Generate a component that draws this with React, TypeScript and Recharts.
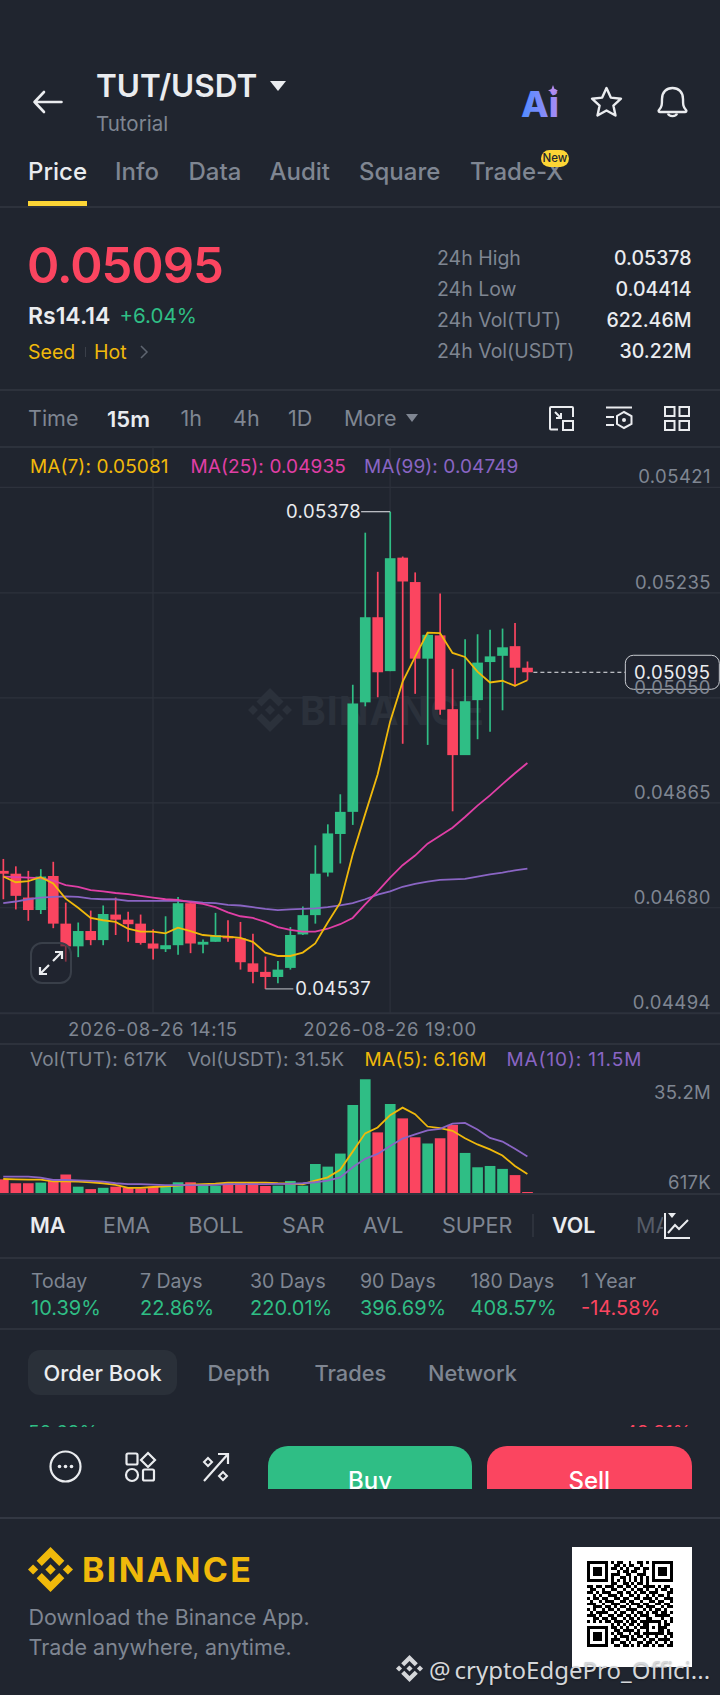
import { type CSSProperties, type ReactNode } from 'react';
import { Bar, CartesianGrid, Cell, ComposedChart, Line, ReferenceDot, XAxis, YAxis } from 'recharts';

// ===== colours =====
const BG = '#20252F';
const GREEN = '#2FBE85';
const RED = '#FB4560';
const YELLOW = '#F0B90B';
const PINK = '#E03FA6';
const PURPLE = '#8A65C4';
const GRAY = '#7F8692';
const WHITE = '#EAECEF';
const LINE = '#2D323C';
const FONT = 'Inter, sans-serif';

// ===== candles (15m) =====
const opens = [0.04745, 0.0474, 0.04698, 0.04676, 0.04736, 0.04652, 0.04612, 0.04639, 0.04623, 0.04668, 0.04659, 0.04652, 0.04617, 0.04607, 0.04614, 0.04688, 0.04615, 0.0462, 0.0463, 0.04626, 0.04582, 0.04567, 0.04558, 0.04574, 0.04633, 0.04667, 0.04742, 0.0481, 0.04849, 0.05042, 0.05192, 0.05097, 0.05297, 0.05254, 0.05119, 0.0516, 0.0503, 0.04949, 0.05046, 0.05113, 0.05124, 0.05141, 0.05103];
const closes = [0.0474, 0.04701, 0.04676, 0.04735, 0.04652, 0.04612, 0.04639, 0.04623, 0.04669, 0.04659, 0.04651, 0.04618, 0.04608, 0.04614, 0.04688, 0.04617, 0.0462, 0.04632, 0.04626, 0.04584, 0.04567, 0.04558, 0.04571, 0.04632, 0.04667, 0.0474, 0.04811, 0.04849, 0.0504, 0.05192, 0.05095, 0.05296, 0.05255, 0.05119, 0.05161, 0.05029, 0.04949, 0.05044, 0.05112, 0.05123, 0.05139, 0.05103, 0.05095];
const highs = [0.04766, 0.04753, 0.04745, 0.04748, 0.04761, 0.04689, 0.04654, 0.04675, 0.04684, 0.04698, 0.04673, 0.04668, 0.04642, 0.04665, 0.04699, 0.04688, 0.04624, 0.04671, 0.04658, 0.04655, 0.04634, 0.04594, 0.04586, 0.04646, 0.04682, 0.0479, 0.04827, 0.0488, 0.05073, 0.05341, 0.05272, 0.05378, 0.05299, 0.05271, 0.05165, 0.05234, 0.05101, 0.05153, 0.05162, 0.0517, 0.05172, 0.05182, 0.05114];
const lows = [0.04695, 0.04677, 0.04657, 0.04669, 0.04644, 0.04585, 0.04593, 0.04614, 0.04614, 0.04632, 0.0462, 0.04615, 0.04589, 0.04602, 0.04597, 0.046, 0.046, 0.0462, 0.0462, 0.04571, 0.04547, 0.04537, 0.04547, 0.04571, 0.04632, 0.04652, 0.04735, 0.04758, 0.04826, 0.05035, 0.05051, 0.05097, 0.04969, 0.05057, 0.04967, 0.0502, 0.0485, 0.04949, 0.04977, 0.0499, 0.05028, 0.0507, 0.05081];

const ma7 = [0.04735, 0.04725, 0.04727, 0.04734, 0.04723, 0.04696, 0.0468, 0.04662, 0.04658, 0.04655, 0.04643, 0.04638, 0.04638, 0.04635, 0.04645, 0.04639, 0.04632, 0.0463, 0.04629, 0.04627, 0.0462, 0.04601, 0.04595, 0.04595, 0.04601, 0.04617, 0.04654, 0.04689, 0.04774, 0.04845, 0.04915, 0.05008, 0.05078, 0.05122, 0.05165, 0.05164, 0.05129, 0.05122, 0.05096, 0.05077, 0.0508, 0.05071, 0.05081];
const ma25 = [0.04735, 0.04734, 0.04733, 0.04732, 0.04728, 0.0472, 0.04717, 0.04711, 0.04709, 0.04706, 0.04704, 0.04701, 0.04698, 0.04695, 0.04694, 0.0469, 0.04687, 0.04681, 0.04672, 0.04665, 0.04662, 0.04655, 0.04646, 0.04641, 0.04638, 0.04638, 0.04643, 0.04651, 0.04662, 0.04686, 0.04709, 0.04733, 0.04755, 0.04772, 0.04793, 0.04807, 0.04821, 0.0484, 0.0486, 0.04878, 0.04898, 0.04917, 0.04935];
const ma99 = [0.04688, 0.04691, 0.04695, 0.04698, 0.04699, 0.047, 0.04699, 0.04696, 0.04695, 0.04695, 0.04692, 0.04692, 0.04692, 0.04692, 0.04692, 0.04691, 0.04689, 0.04688, 0.04685, 0.04684, 0.04681, 0.04678, 0.04676, 0.04677, 0.04678, 0.04679, 0.04681, 0.04684, 0.04688, 0.04695, 0.04703, 0.04709, 0.04717, 0.04722, 0.04726, 0.04729, 0.0473, 0.04731, 0.04735, 0.04739, 0.04742, 0.04746, 0.04749];

// ===== volume, in millions =====
const vols = [4.5, 3.3, 3.3, 3.5, 4.1, 6.0, 2.25, 1.5, 1.9, 2.25, 1.9, 1.7, 2.2, 2.45, 3.6, 3.6, 2.8, 2.55, 3.3, 3.3, 3.6, 2.45, 2.55, 4.0, 2.55, 9.2, 8.4, 12.4, 27.3, 35.2, 18.9, 27.6, 23.2, 17.4, 15.5, 17.1, 21.2, 12.6, 8.2, 8.6, 7.7, 5.8, 0.617];
const volMa5 = [4.6, 4.5, 4.4, 4.4, 3.9, 3.9, 3.8, 3.6, 3.3, 2.8, 1.9, 1.9, 2.15, 2.35, 2.55, 2.85, 3.0, 3.15, 3.5, 3.5, 3.5, 3.5, 3.3, 3.2, 3.0, 4.1, 5.1, 7.4, 13.0, 18.6, 20.4, 24.2, 26.5, 24.5, 20.7, 20.2, 19.4, 17.1, 15.2, 13.7, 11.8, 8.6, 6.16];
const volMa10 = [5.3, 5.3, 5.3, 5.0, 4.3, 4.3, 4.2, 4.0, 3.8, 3.3, 3.05, 3.0, 2.85, 2.75, 2.75, 2.75, 2.75, 2.8, 3.0, 3.0, 3.0, 3.0, 3.1, 3.1, 3.3, 3.6, 4.1, 5.1, 8.2, 10.8, 12.3, 14.7, 17.0, 18.3, 19.5, 20.0, 21.6, 21.8, 19.8, 17.2, 16.1, 13.9, 11.5];

// ===== axis labels =====
const priceTicks = [0.05421, 0.05235, 0.0505, 0.04865, 0.0468, 0.04494];
const priceTickLabels = ['0.05421', '0.05235', '0.05050', '0.04865', '0.04680', '0.04494'];
const timeTicks = [12, 31];
const timeLabels = ['2026-08-26 14:15', '2026-08-26 19:00'];
const volTicks = [35.2, 0.617];
const volTickLabels = ['35.2M', '617K'];

// empty slots on the right keep the free space after the last candle
const SLOTS = 58;
const SLOT_W = 12.48;
const CHART_W = SLOTS * SLOT_W + 1; // +1 for the right axis, it is not drawn at width 0
const CHART_LEFT = -3.34;

const rows = Array.from({ length: SLOTS }, (_, i) => ({
  i,
  open: opens[i],
  close: closes[i],
  high: highs[i],
  low: lows[i],
  range: i < opens.length ? [lows[i], highs[i]] : undefined,
  ma7: ma7[i],
  ma25: ma25[i],
  ma99: ma99[i],
  vol: vols[i],
  volMa5: volMa5[i],
  volMa10: volMa10[i],
}));

const upColor = (i: number) => (closes[i] >= opens[i] ? GREEN : RED);

function Candle(props: any) {
  const { x, y, width, height, payload } = props;
  if (payload.open === undefined) return null;
  const perUnit = height / (payload.high - payload.low);
  const top = y + (payload.high - Math.max(payload.open, payload.close)) * perUnit;
  const bot = y + (payload.high - Math.min(payload.open, payload.close)) * perUnit;
  const color = payload.close >= payload.open ? GREEN : RED;
  const mid = x + width / 2;
  return (
    <g>
      <line x1={mid} x2={mid} y1={y} y2={y + height} stroke={color} strokeWidth={1.7} />
      <rect x={x} y={top} width={width} height={Math.max(bot - top, 1.5)} fill={color} />
    </g>
  );
}

function PriceTick({ y, payload }: any) {
  const idx = priceTicks.indexOf(payload.value);
  return (
    <text x={714} y={y - 4} textAnchor="end" fontSize={18.5} fontFamily={FONT} fill={GRAY} letterSpacing={0.45}>
      {priceTickLabels[idx]}
    </text>
  );
}

function VolTick({ y, payload }: any) {
  const idx = volTicks.indexOf(payload.value);
  return (
    <text x={714} y={idx === 0 ? y + 20 : y - 3} textAnchor="end" fontSize={18.5} fontFamily={FONT} fill={GRAY} letterSpacing={0.3}>
      {volTickLabels[idx]}
    </text>
  );
}

function TimeTick({ x, y, payload }: any) {
  const idx = timeTicks.indexOf(payload.value);
  return (
    <text x={x} y={y + 15} textAnchor="middle" fontSize={18.5} fontFamily={FONT} fill={GRAY} letterSpacing={0.82}>
      {timeLabels[idx]}
    </text>
  );
}

function HighMark({ cx, cy }: any) {
  return (
    <g>
      <line x1={cx - 29} x2={cx} y1={cy} y2={cy} stroke="#C9CCD1" strokeWidth={1.2} />
      <text x={cx - 29} y={cy + 6} textAnchor="end" fontSize={18.5} fontFamily={FONT} fill={WHITE} letterSpacing={0.45}>0.05378</text>
    </g>
  );
}

function LowMark({ cx, cy }: any) {
  return (
    <g>
      <line x1={cx} x2={cx + 28} y1={cy} y2={cy} stroke="#A8ACB3" strokeWidth={1.2} />
      <text x={cx + 30} y={cy + 6} fontSize={18.5} fontFamily={FONT} fill={WHITE} letterSpacing={0.45}>0.04537</text>
    </g>
  );
}

function LastPriceTag({ cx, cy }: any) {
  const boxX = 625 - CHART_LEFT;
  return (
    <g>
      <line x1={cx + 6} x2={boxX} y1={cy} y2={cy} stroke={WHITE} strokeWidth={1} strokeDasharray="4 3" />
      <rect x={boxX} y={cy - 17} width={94} height={34} rx={8} fill={BG} fillOpacity={0.55} stroke="#C9CCD1" strokeWidth={1} />
      <text x={boxX + 47} y={cy + 7} textAnchor="middle" fontSize={18.5} fontFamily={FONT} fill={WHITE} letterSpacing={0.45}>0.05095</text>
    </g>
  );
}

// ===== page bits =====
function T({ x, y, size, color = GRAY, weight = 400, right, children, style }: {
  x?: number; y: number; size: number; color?: string; weight?: number; right?: number; children: ReactNode; style?: CSSProperties;
}) {
  return (
    <div
      style={{
        position: 'absolute',
        left: x,
        right: right !== undefined ? 720 - right : undefined,
        top: y,
        transform: 'translateY(-50%)',
        fontSize: size,
        color,
        fontWeight: weight,
        lineHeight: 1,
        whiteSpace: 'nowrap',
        ...style,
      }}
    >
      {children}
    </div>
  );
}

function Rule({ y, h = 1.5, color = LINE }: { y: number; h?: number; color?: string }) {
  return <div style={{ position: 'absolute', left: 0, width: 720, top: y, height: h, background: color }} />;
}

function Icon({ x, y, w, h, box, children }: { x: number; y: number; w: number; h: number; box: string; children: ReactNode }) {
  return (
    <svg viewBox={box} width={w} height={h} style={{ position: 'absolute', left: x, top: y, overflow: 'visible' }} fill="none">
      {children}
    </svg>
  );
}

function BinanceMark({ x, y, size, color }: { x: number; y: number; size: number; color: string }) {
  return (
    <svg viewBox="0 0 126.61 126.61" width={size} height={size} style={{ position: 'absolute', left: x, top: y }} fill={color}>
      <path d="m38.73 53.2 24.59-24.58 24.6 24.6 14.3-14.31L63.32 0l-38.9 38.9z" />
      <path d="m0 63.31 14.3-14.31 14.31 14.31-14.31 14.3z" />
      <path d="m38.73 73.41 24.59 24.59 24.6-24.6 14.31 14.29-38.9 38.91-38.91-38.88-.02-.02z" />
      <path d="m98 63.31 14.3-14.31 14.31 14.3-14.31 14.32z" />
      <path d="m77.83 63.3-14.51-14.52-10.73 10.73-1.24 1.23-2.54 2.54 14.51 14.5 14.51-14.47z" />
    </svg>
  );
}

const qrRows = [
  '11111110101100100110101111111',
  '10000010011010110010001000001',
  '10111010110101001101101011101',
  '10111010001011011001001011101',
  '10111010111001100111001011101',
  '10000010100110101010101000001',
  '11111110101010101010101111111',
  '00000000110011010110100000000',
  '11011011101101101001111010110',
  '01100100110010010110100101101',
  '11010111001101101011011100011',
  '00101001110100110100101011010',
  '10110110011011001101110100111',
  '01001011100110110010011011001',
  '11100100111001011101100110110',
  '00111011010110100110111001011',
  '10100101101001111001010110100',
  '01011110010110010110101101101',
  '11101001101101101011100111110',
  '00110110110010110100110001001',
  '10101011011101011011111110101',
  '00000000101010110101100010110',
  '11111110110101001011101011100',
  '10000010011011110100100011010',
  '10111010101100101101111111011',
  '10111010010111010110100100101',
  '10111010111001011001011011110',
  '10000010100110100110110100101',
  '11111110011011010101101011011',
];

const tabs = [['Info', 115], ['Data', 188.5], ['Audit', 269.5], ['Square', 359], ['Trade-X', 470]] as const;
const stats = [['24h High', '0.05378', 259], ['24h Low', '0.04414', 290], ['24h Vol(TUT)', '622.46M', 321], ['24h Vol(USDT)', '30.22M', 352]] as const;
const frames = [['Time', 28], ['1h', 180.5], ['4h', 233], ['1D', 288], ['More', 344]] as const;
const indicators = [['EMA', 103], ['BOLL', 188.5], ['SAR', 282], ['AVL', 363], ['SUPER', 442]] as const;
const perf = [['Today', '10.39%', 31], ['7 Days', '22.86%', 140], ['30 Days', '220.01%', 250], ['90 Days', '396.69%', 360], ['180 Days', '408.57%', 470.5], ['1 Year', '-14.58%', 581]] as const;
const books = [['Depth', 207.5], ['Trades', 314.5], ['Network', 428]] as const;

function PriceChart() {
  return (
    <div style={{ position: 'absolute', left: CHART_LEFT, top: 447 }}>
      <ComposedChart width={CHART_W} height={600} data={rows} margin={{ top: 0, right: 0, bottom: 0, left: 0 }}>
        <CartesianGrid stroke={LINE} strokeWidth={1.2} />
        <XAxis
          dataKey="i"
          type="category"
          ticks={timeTicks}
          height={33.7}
          axisLine={{ stroke: LINE, strokeWidth: 2 }}
          tickLine={false}
          tick={TimeTick}
          interval={0}
        />
        <YAxis
          yAxisId={0}
          orientation="right"
          width={1}
          type="number"
          domain={[0.04494, 0.05492]}
          ticks={priceTicks}
          axisLine={false}
          tickLine={false}
          tick={PriceTick}
          interval={0}
        />
        <Bar dataKey="range" barSize={10.7} shape={Candle} isAnimationActive={false} />
        <Line dataKey="ma99" stroke={PURPLE} strokeWidth={1.8} dot={false} isAnimationActive={false} />
        <Line dataKey="ma25" stroke={PINK} strokeWidth={1.8} dot={false} isAnimationActive={false} />
        <Line dataKey="ma7" stroke={YELLOW} strokeWidth={1.8} dot={false} isAnimationActive={false} />
        <ReferenceDot x={31} y={0.05378} shape={HighMark} />
        <ReferenceDot x={21} y={0.04537} shape={LowMark} />
        <ReferenceDot x={42} y={0.05095} shape={LastPriceTag} />
      </ComposedChart>
    </div>
  );
}

function VolumeChart() {
  return (
    <div style={{ position: 'absolute', left: CHART_LEFT, top: 1043 }}>
      <ComposedChart width={CHART_W} height={152} data={rows} margin={{ top: 0, right: 0, bottom: 0, left: 0 }}>
        <CartesianGrid stroke={LINE} strokeWidth={1.2} horizontal={false} />
        <XAxis
          dataKey="i"
          type="category"
          ticks={timeTicks}
          height={1}
          axisLine={{ stroke: LINE, strokeWidth: 2 }}
          tickLine={false}
          tick={false}
          interval={0}
        />
        <YAxis
          orientation="right"
          width={1}
          type="number"
          domain={[0, 46.32]}
          ticks={volTicks}
          axisLine={false}
          tickLine={false}
          tick={VolTick}
          interval={0}
        />
        <Bar dataKey="vol" barSize={10.7} isAnimationActive={false}>
          {rows.map((r) => (
            <Cell key={r.i} fill={r.vol === undefined ? 'none' : upColor(r.i)} />
          ))}
        </Bar>
        <Line dataKey="volMa5" stroke={YELLOW} strokeWidth={1.8} dot={false} isAnimationActive={false} />
        <Line dataKey="volMa10" stroke={PURPLE} strokeWidth={1.8} dot={false} isAnimationActive={false} />
      </ComposedChart>
    </div>
  );
}

export default function App() {
  return (
    <div style={{ position: 'absolute', left: 0, top: 0, width: 720, height: 1695, overflow: 'hidden', background: BG, fontFamily: FONT }}>
      {/* header */}
      <Icon x={33} y={91} w={29} h={22} box="0 0 29 22">
        <path d="M11 1 1.5 11 11 21M1.5 11H28.5" stroke={WHITE} strokeWidth={2.6} strokeLinecap="round" strokeLinejoin="round" />
      </Icon>
      <T x={96} y={86} size={31.5} color={WHITE} weight={600}>TUT/USDT</T>
      <Icon x={270} y={81} w={16} h={10} box="0 0 16 10">
        <path d="M0 0H16L8 10Z" fill={WHITE} />
      </Icon>
      <T x={96} y={123.5} size={20.5}>Tutorial</T>
      <svg width={46} height={38} style={{ position: 'absolute', left: 521, top: 83 }}>
        <defs>
          <linearGradient id="ai-grad" x1="0" y1="0" x2="1" y2="0">
            <stop offset="0%" stopColor="#4F8CFF" />
            <stop offset="100%" stopColor="#A98BF5" />
          </linearGradient>
        </defs>
        <text x={0} y={34} fontSize={36} fontWeight={800} fontFamily={FONT} fill="url(#ai-grad)">Ai</text>
        <path d="M32 2 33.5 6 37 7.5 33.5 9 32 13 30.5 9 27 7.5 30.5 6Z" fill="#B48CF0" />
      </svg>
      <Icon x={590} y={86} w={33} h={31} box="0 0 33 31">
        <path d="M16.5 2 20.8 11.6 31 12.7 23.4 19.6 25.5 29.5 16.5 24.5 7.5 29.5 9.6 19.6 2 12.7 12.2 11.6Z" stroke={WHITE} strokeWidth={2.4} strokeLinejoin="round" />
      </Icon>
      <Icon x={656} y={86} w={33} h={32} box="0 0 33 32">
        <path d="M3 24C6 21 6 18 6 13 6 6 10.5 2 16.5 2S27 6 27 13C27 18 27 21 30 24 31 25.5 30 26 29 26H4C3 26 2 25.5 3 24Z" stroke={WHITE} strokeWidth={2.4} strokeLinejoin="round" />
        <path d="M12 27.5C13 31 20 31 21 27.5" stroke={WHITE} strokeWidth={2.4} />
      </Icon>

      {/* tabs */}
      <T x={28} y={172} size={24} color={WHITE} weight={500}>Price</T>
      {tabs.map(([label, x]) => (
        <T key={label} x={x} y={172} size={24} weight={500}>{label}</T>
      ))}
      <div style={{ position: 'absolute', left: 541, top: 150, width: 28, height: 17, borderRadius: 9, background: '#FCD535', color: '#20252F', fontSize: 11.5, fontWeight: 500, lineHeight: '17px', textAlign: 'center' }}>New</div>
      <div style={{ position: 'absolute', left: 28, top: 200.5, width: 59, height: 5.5, background: '#FCD535' }} />
      <Rule y={206} />

      {/* price block */}
      <T x={27} y={265} size={49} color={RED} weight={600} style={{ letterSpacing: -1 }}>0.05095</T>
      <T x={28} y={316} size={23} color={WHITE} weight={600}>Rs14.14</T>
      <T x={119.5} y={316} size={20.5} color={GREEN}>+6.04%</T>
      <T x={28} y={352.5} size={19.5} color={YELLOW}>Seed</T>
      <div style={{ position: 'absolute', left: 84.5, top: 347, width: 1.5, height: 10, background: '#3A3F49' }} />
      <T x={94} y={352.5} size={19.5} color={YELLOW}>Hot</T>
      <Icon x={140} y={345} w={8} h={14} box="0 0 8 14">
        <path d="M1 1 7 7 1 13" stroke="#5E6570" strokeWidth={1.5} />
      </Icon>
      {stats.map(([label, value, y]) => (
        <div key={label}>
          <T x={437} y={y} size={19.5}>{label}</T>
          <T right={691.5} y={y} size={19.5} color={WHITE} weight={500}>{value}</T>
        </div>
      ))}
      <Rule y={389} />

      {/* timeframes */}
      {frames.map(([label, x]) => (
        <T key={label} x={x} y={419} size={21.5}>{label}</T>
      ))}
      <T x={107} y={419} size={22} color={WHITE} weight={600}>15m</T>
      <Icon x={406} y={414} w={12} h={8} box="0 0 12 8">
        <path d="M0 0H12L6 8Z" fill={GRAY} />
      </Icon>
      <Icon x={549} y={406} w={25} h={25} box="0 0 25 25">
        <path d="M9 23.5H2C1.5 23.5 1 23 1 22.5V2C1 1.5 1.5 1 2 1H23C23.5 1 24 1.5 24 2V11" stroke={WHITE} strokeWidth={2} />
        <path d="M6 6 12 12M12 7V12H7" stroke={WHITE} strokeWidth={2} />
        <rect x={14} y={15} width={10} height={9} stroke={WHITE} strokeWidth={2} />
      </Icon>
      <Icon x={605} y={406} w={28} h={25} box="0 0 28 25">
        <path d="M1 1.5H27M1 11H9M1 19H9" stroke={WHITE} strokeWidth={2} />
        <path d="M19 6 26.5 10V18L19 22 12 18V10Z" stroke={WHITE} strokeWidth={2} />
        <circle cx={19} cy={14} r={2} fill={WHITE} />
      </Icon>
      <Icon x={664} y={406} w={26} h={25} box="0 0 26 25">
        <rect x={1} y={1} width={9.5} height={9} stroke={WHITE} strokeWidth={2} />
        <rect x={15.5} y={1} width={9.5} height={9} stroke={WHITE} strokeWidth={2} />
        <rect x={1} y={15} width={9.5} height={9} stroke={WHITE} strokeWidth={2} />
        <rect x={15.5} y={15} width={9.5} height={9} stroke={WHITE} strokeWidth={2} />
      </Icon>
      <Rule y={446} />

      {/* watermark sits behind the chart */}
      <BinanceMark x={248} y={688} size={44} color="#2B313B" />
      <T x={300} y={710} size={39} color="#2B313B" weight={700} style={{ letterSpacing: 1 }}>BINANCE</T>

      <PriceChart />
      <Rule y={1043} />
      <VolumeChart />

      {/* legends */}
      <T x={30} y={465.5} size={19} color={YELLOW} style={{ letterSpacing: 0.1 }}>MA(7): 0.05081</T>
      <T x={190.5} y={465.5} size={19} color={PINK} style={{ letterSpacing: 0.1 }}>MA(25): 0.04935</T>
      <T x={364} y={465.5} size={19} color={PURPLE} style={{ letterSpacing: 0.1 }}>MA(99): 0.04749</T>
      <T x={30} y={1059} size={19} style={{ letterSpacing: 0.2 }}>Vol(TUT): 617K</T>
      <T x={187.5} y={1059} size={19} style={{ letterSpacing: 0.2 }}>Vol(USDT): 31.5K</T>
      <T x={364.5} y={1059} size={19} color={YELLOW} style={{ letterSpacing: 0.35 }}>MA(5): 6.16M</T>
      <T x={506.5} y={1059} size={19} color={PURPLE} style={{ letterSpacing: 0.9 }}>MA(10): 11.5M</T>

      {/* expand button */}
      <div style={{ position: 'absolute', left: 29.5, top: 942, width: 38, height: 38, border: '2px solid #393F49', borderRadius: 12, background: 'rgba(32,37,47,.55)' }} />
      <Icon x={38} y={950} w={26} h={26} box="0 0 26 26">
        <path d="M2 24 11 15M2 17V24H9M24 2 15 11M17 2H24V9" stroke={WHITE} strokeWidth={2.2} />
      </Icon>

      {/* indicators */}
      <T x={30} y={1226} size={21.5} color={WHITE} weight={600}>MA</T>
      {indicators.map(([label, x]) => (
        <T key={label} x={x} y={1226} size={21.5}>{label}</T>
      ))}
      <div style={{ position: 'absolute', left: 532, top: 1214, width: 1.5, height: 23, background: LINE }} />
      <T x={552} y={1226} size={21.5} color={WHITE} weight={600}>VOL</T>
      <div style={{ position: 'absolute', left: 636, top: 1210, width: 27, height: 30, overflow: 'hidden' }}>
        <T x={0} y={16} size={21.5} color="#565C67">MACD</T>
      </div>
      <Icon x={664} y={1213} w={26} h={26} box="0 0 26 26">
        <path d="M1 0V25H26" stroke={WHITE} strokeWidth={2} />
        <path d="M4 20 11 12 15 16 24 7" stroke={WHITE} strokeWidth={2} />
        <path d="M4 0H12L8 5Z" fill={WHITE} />
      </Icon>
      <Rule y={1257} />

      {/* performance */}
      {perf.map(([label, value, x]) => (
        <div key={label}>
          <T x={x} y={1282} size={19.5}>{label}</T>
          <T x={x} y={1308} size={20} color={value.startsWith('-') ? RED : GREEN}>{value}</T>
        </div>
      ))}
      <Rule y={1328} />

      {/* order book tabs */}
      <div style={{ position: 'absolute', left: 28, top: 1350, width: 149, height: 45, borderRadius: 12, background: '#2A3039' }} />
      <T x={43.5} y={1374} size={21.8} color={WHITE} weight={500}>Order Book</T>
      {books.map(([label, x]) => (
        <T key={label} x={x} y={1374} size={21.8} weight={500}>{label}</T>
      ))}
      <div style={{ position: 'absolute', left: 0, top: 1415, width: 720, height: 12, overflow: 'hidden' }}>
        <T x={28} y={17} size={19} color={GREEN}>50.69%</T>
        <T right={691.5} y={17} size={19} color={RED}>49.31%</T>
      </div>

      {/* action bar */}
      <Icon x={49} y={1450} w={33} h={33} box="0 0 33 33">
        <circle cx={16.5} cy={16.5} r={15} stroke={WHITE} strokeWidth={2.2} />
        <circle cx={10.5} cy={16.5} r={1.8} fill={WHITE} />
        <circle cx={16.5} cy={16.5} r={1.8} fill={WHITE} />
        <circle cx={22.5} cy={16.5} r={1.8} fill={WHITE} />
      </Icon>
      <Icon x={125} y={1452} w={31} h={30} box="0 0 31 30">
        <rect x={1.5} y={1.5} width={11} height={11} rx={1.5} stroke={WHITE} strokeWidth={2.2} />
        <path d="M23 1 30 8 23 15 16 8Z" stroke={WHITE} strokeWidth={2.2} />
        <circle cx={7} cy={23} r={6} stroke={WHITE} strokeWidth={2.2} />
        <rect x={18} y={17.5} width={11} height={11} rx={1.5} stroke={WHITE} strokeWidth={2.2} />
      </Icon>
      <Icon x={202} y={1452} w={28} h={30} box="0 0 28 30">
        <path d="M2 29 26 2M16 2H26V12" stroke={WHITE} strokeWidth={2.2} />
        <path d="M6 6 10 10 6 14 2 10ZM21 20 25 24 21 28 17 24Z" stroke={WHITE} strokeWidth={2} />
      </Icon>
      <div style={{ position: 'absolute', left: 268, top: 1446, width: 204, height: 43, overflow: 'hidden', borderRadius: '20px 20px 0 0', background: GREEN }}>
        <T x={0} y={35} size={24} color="#fff" weight={500} style={{ width: 204, textAlign: 'center' }}>Buy</T>
      </div>
      <div style={{ position: 'absolute', left: 487, top: 1446, width: 204.5, height: 43, overflow: 'hidden', borderRadius: '20px 20px 0 0', background: RED }}>
        <T x={0} y={35} size={24} color="#fff" weight={500} style={{ width: 204.5, textAlign: 'center' }}>Sell</T>
      </div>
      <Rule y={1517} h={2} color="#333843" />

      {/* footer */}
      <BinanceMark x={28} y={1547} size={45} color={YELLOW} />
      <T x={82} y={1569.5} size={34} color={YELLOW} weight={700} style={{ letterSpacing: 2.3 }}>BINANCE</T>
      <T x={28.5} y={1618} size={21.5}>Download the Binance App.</T>
      <T x={28.5} y={1648} size={21.5}>Trade anywhere, anytime.</T>
      <div style={{ position: 'absolute', left: 572, top: 1547, width: 120, height: 120, background: '#fff' }} />
      <svg viewBox="0 0 29 29" width={86} height={86} shapeRendering="crispEdges" style={{ position: 'absolute', left: 587, top: 1561 }}>
        {qrRows.map((row, r) =>
          row.split('').map((c, m) => (c === '1' ? <rect key={`${r}-${m}`} x={m} y={r} width={1} height={1} fill="#000" /> : null)),
        )}
      </svg>
      <BinanceMark x={396} y={1655} size={27} color="#D5D7DA" />
      <T x={429} y={1670} size={24} color="#D5D7DA" style={{ fontFamily: '"Noto Sans", sans-serif', textShadow: '0 1px 2px rgba(0,0,0,.35)' }}>@</T>
      <T x={454.5} y={1670} size={24} color="#D5D7DA" style={{ fontFamily: '"Noto Sans", sans-serif', textShadow: '0 1px 2px rgba(0,0,0,.35)' }}>cryptoEdgePro_Offici...</T>
    </div>
  );
}
